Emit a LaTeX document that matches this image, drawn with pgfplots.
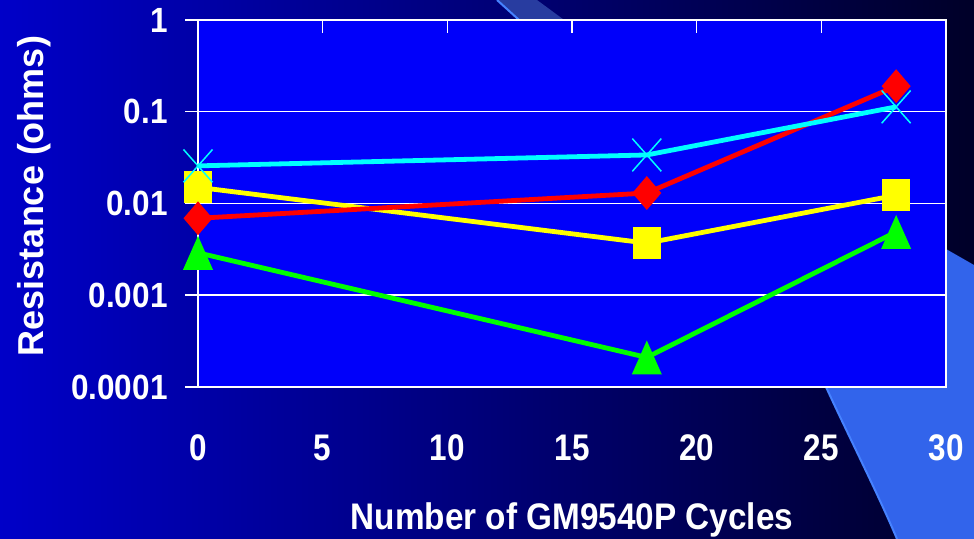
\documentclass[border=0pt]{standalone}
\usepackage{pgfplots}
\pgfplotsset{compat=1.18}
\usepackage{fontspec}
\setmainfont{Liberation Sans}

\definecolor{slideL}{RGB}{0,0,200}
\definecolor{slideR}{RGB}{0,0,40}
\definecolor{swoosh}{RGB}{50,100,235}
\definecolor{swooshedge}{RGB}{70,130,255}
\definecolor{band}{RGB}{40,60,160}
\definecolor{plotbg}{RGB}{0,0,250}
\definecolor{sCyan}{RGB}{0,255,255}
\definecolor{sRed}{RGB}{255,0,0}
\definecolor{sYellow}{RGB}{255,255,0}
\definecolor{sGreen}{RGB}{0,255,0}

% marks a bit taller than wide, as in the slide
\pgfdeclareplotmark{sqr}{%
  \pgfpathrectangle{\pgfpoint{-\pgfplotmarksize}{-1.14\pgfplotmarksize}}{\pgfpoint{2\pgfplotmarksize}{2.28\pgfplotmarksize}}%
  \pgfusepathqfill}
\pgfdeclareplotmark{dia}{%
  \pgfpathmoveto{\pgfpoint{0pt}{1.17\pgfplotmarksize}}%
  \pgfpathlineto{\pgfpoint{\pgfplotmarksize}{0pt}}%
  \pgfpathlineto{\pgfpoint{0pt}{-1.17\pgfplotmarksize}}%
  \pgfpathlineto{\pgfpoint{-\pgfplotmarksize}{0pt}}%
  \pgfpathclose\pgfusepathqfill}
\pgfdeclareplotmark{tri}{%
  \pgfpathmoveto{\pgfpoint{0pt}{1.13\pgfplotmarksize}}%
  \pgfpathlineto{\pgfpoint{\pgfplotmarksize}{-1.13\pgfplotmarksize}}%
  \pgfpathlineto{\pgfpoint{-\pgfplotmarksize}{-1.13\pgfplotmarksize}}%
  \pgfpathclose\pgfusepathqfill}
\pgfdeclareplotmark{xx}{%
  \pgfpathmoveto{\pgfpoint{-\pgfplotmarksize}{-1.13\pgfplotmarksize}}%
  \pgfpathlineto{\pgfpoint{\pgfplotmarksize}{1.13\pgfplotmarksize}}%
  \pgfpathmoveto{\pgfpoint{-\pgfplotmarksize}{1.13\pgfplotmarksize}}%
  \pgfpathlineto{\pgfpoint{\pgfplotmarksize}{-1.13\pgfplotmarksize}}%
  \pgfusepathqstroke}

\begin{document}
\begin{tikzpicture}[x=0.5bp,y=0.5bp]
\useasboundingbox (0,0) rectangle (974,539);
% slide background
\fill[left color=slideL,right color=slideR] (0,0) rectangle (974,539);
\fill[band] (497,539) -- (537,539) -- (590,500) -- (540,500) -- cycle;
\draw[swooshedge,line width=1bp] (497,539) -- (540,500);
\fill[swoosh] (826,152) .. controls (850,100) and (878,45) .. (897,0) -- (974,0) -- (974,274) -- (946,290) -- (946,152) -- cycle;
\draw[swooshedge,line width=1bp] (826,152) .. controls (850,100) and (878,45) .. (897,0);

\begin{axis}[
    at={(99bp,76bp)}, anchor=south west,
    scale only axis, width=374bp, height=183.5bp,
    xmin=0, xmax=30,
    ymode=log, ymin=1e-4, ymax=1,
    xtick={0,5,10,15,20,25,30},
    xticklabels={0,5,10,15,20,25,30},
    ytick={1e-4,1e-3,1e-2,1e-1,1},
    yticklabels={0.0001,0.001,0.01,0.1,1},
    yminorticks=false,
    xtick pos=right, xticklabel pos=left, xtick align=inside,
    ytick pos=left, ytick align=outside,
    major tick length=6.5bp,
    tick style={white, line width=0.75bp},
    axis line style={white, line width=0.75bp},
    ymajorgrids,
    major grid style={white, line width=0.75bp},
    axis background/.style={fill=plotbg},
    clip=false,
    xticklabel style={text=white, font=\fontsize{18.5bp}{21bp}\selectfont\bfseries, xscale=0.85, anchor=center, yshift=-30.5bp},
    yticklabel style={text=white, font=\fontsize{17.5bp}{20bp}\selectfont\bfseries, xscale=0.9, anchor=east, inner sep=0pt, xshift=-9.5bp},
    xlabel={Number of GM9540P Cycles},
    ylabel={Resistance (ohms)},
    xlabel style={text=white, font=\fontsize{18.5bp}{21bp}\selectfont\bfseries, xscale=0.9, at={(axis description cs:0.5,-0.3896)}, anchor=base, inner sep=0pt},
    ylabel style={text=white, font=\fontsize{18bp}{21bp}\selectfont\bfseries, at={(axis description cs:-0.2072,0.5204)}, anchor=base, inner sep=0pt},
  ]
\addplot[sGreen, line width=2.4bp, mark=tri, mark size=7.5bp] coordinates {(0,0.0029) (18,0.00021) (28,0.0049)};
\addplot[sYellow, line width=2.4bp, mark=sqr, mark size=7bp] coordinates {(0,0.015) (18,0.0037) (28,0.0123)};
\addplot[sRed, line width=2.4bp, mark=dia, mark size=7.25bp] coordinates {(0,0.0069) (18,0.013) (28,0.19)};
\addplot[sCyan, line width=2.4bp, mark=xx, mark size=7.25bp, mark options={line width=0.75bp}] coordinates {(0,0.0257) (18,0.0338) (28,0.113)};
\end{axis}
\end{tikzpicture}
\end{document}
